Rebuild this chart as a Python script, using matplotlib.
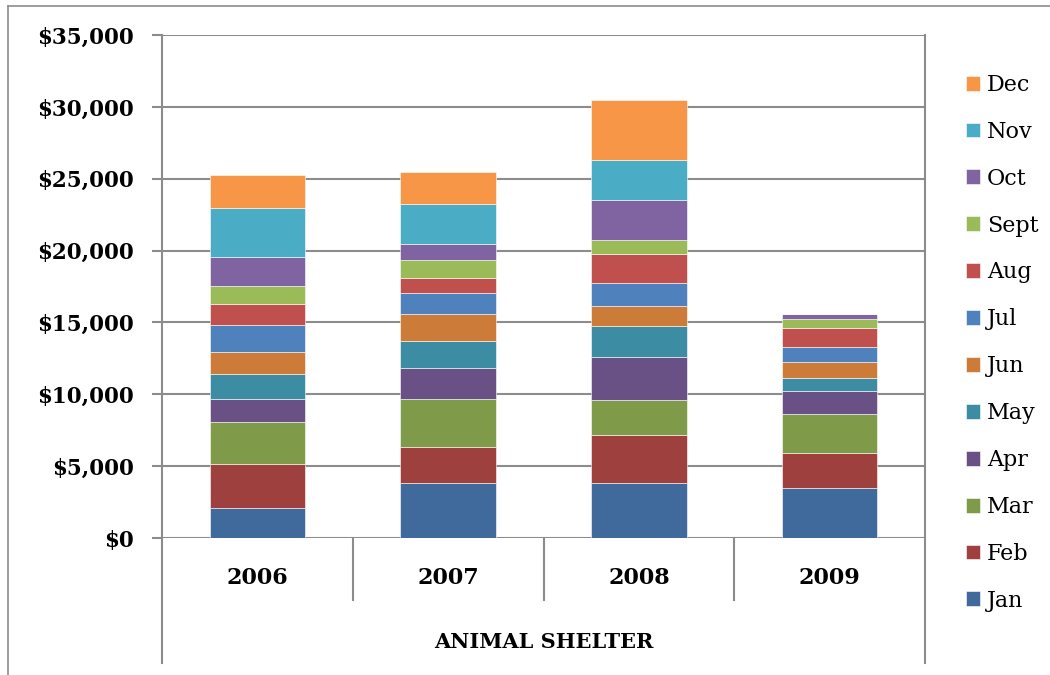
import matplotlib.pyplot as plt
from matplotlib.lines import Line2D
from matplotlib.ticker import FuncFormatter

# donations per month, by year
years = ["2006", "2007", "2008", "2009"]
months = ["Jan", "Feb", "Mar", "Apr", "May", "Jun", "Jul", "Aug", "Sept", "Oct", "Nov", "Dec"]
jan = [2100, 3800, 3800, 3450]
feb = [3020, 2500, 3360, 2440]
mar = [2920, 3360, 2440, 2730]
apr = [1600, 2140, 2970, 1620]
may = [1740, 1900, 2180, 900]
jun = [1530, 1880, 1370, 1140]
jul = [1900, 1440, 1600, 980]
aug = [1440, 1090, 2040, 1320]
sept = [1270, 1230, 1000, 650]
oct_ = [2040, 1090, 2760, 350]
nov = [3370, 2800, 2780, 0]
dec = [2320, 2250, 4180, 0]
series = [jan, feb, mar, apr, may, jun, jul, aug, sept, oct_, nov, dec]

colors = ["#416A9C", "#9E413E", "#7F9A48", "#695185", "#3C8DA3", "#CC7B38",
          "#4F81BD", "#C0504D", "#9BBB59", "#8064A2", "#4BACC6", "#F79646"]

W, H = 1050, 675
fig = plt.figure(figsize=(W / 100, H / 100), dpi=100)
serif = "DejaVu Serif"
gray = "#8C8C8C"

# plot area in pixels: x 162..925, y 35..538
ax = fig.add_axes([162 / W, (H - 538) / H, (925 - 162) / W, (538 - 35) / H])

xs = [i + 0.5 for i in range(len(years))]
bottom = [0] * len(years)
for name, vals, c in zip(months, series, colors):
    ax.bar(xs, vals, width=0.5, bottom=bottom, color=c, label=name,
           edgecolor="white", linewidth=0.4, zorder=3)
    bottom = [b + v for b, v in zip(bottom, vals)]

ax.set_xlim(0, 4)
ax.set_ylim(0, 35000)
ax.set_yticks(range(0, 35001, 5000))
ax.yaxis.set_major_formatter(FuncFormatter(lambda v, p: "${:,.0f}".format(v)))
ax.yaxis.grid(True, color=gray, linewidth=1.5, zorder=0)
ax.set_xticks([])
for s in ["top", "bottom", "right"]:
    ax.spines[s].set_visible(False)
ax.spines["left"].set_color(gray)
ax.spines["left"].set_linewidth(1.5)
ax.tick_params(axis="y", length=7, width=1.5, color=gray, pad=13)
for lab in ax.get_yticklabels():
    lab.set_fontfamily(serif)
    lab.set_fontweight("bold")
    lab.set_fontsize(15.5)

# category axis frame below the plot
below = -(663 - 538) / (538 - 35)
sep = -(600 - 538) / (538 - 35)
kw = dict(transform=ax.transAxes, color=gray, linewidth=1.5, clip_on=False)
ax.plot([0, 0], [0, below], **kw)
ax.plot([1, 1], [1, below], **kw)
for i in range(1, len(years)):
    ax.plot([i / 4, i / 4], [0, sep], **kw)

for x, y in zip(xs, years):
    ax.text(x / 4, -(578 - 538) / (538 - 35), y, transform=ax.transAxes,
            ha="center", va="center", fontsize=16, fontweight="bold", family=serif)
ax.text(0.5, -(642 - 538) / (538 - 35), "ANIMAL SHELTER", transform=ax.transAxes,
        ha="center", va="center", fontsize=15, fontweight="bold", family=serif)

# outer chart border (top and left)
fig.add_artist(Line2D([8 / W, 8 / W], [0, 1 - 6 / H], transform=fig.transFigure,
                      color=gray, linewidth=1.2))
fig.add_artist(Line2D([8 / W, 1], [1 - 6 / H, 1 - 6 / H], transform=fig.transFigure,
                      color=gray, linewidth=1.2))

handles, labels = ax.get_legend_handles_labels()
leg = fig.legend(handles[::-1], labels[::-1], loc="upper left",
                 bbox_to_anchor=(957 / W, 1 - 65 / H), frameon=False,
                 prop={"family": serif, "size": 16},
                 handlelength=0.65, handleheight=0.65, handletextpad=0.3,
                 labelspacing=1.12, borderaxespad=0)

fig.savefig("out.png", dpi=100)
